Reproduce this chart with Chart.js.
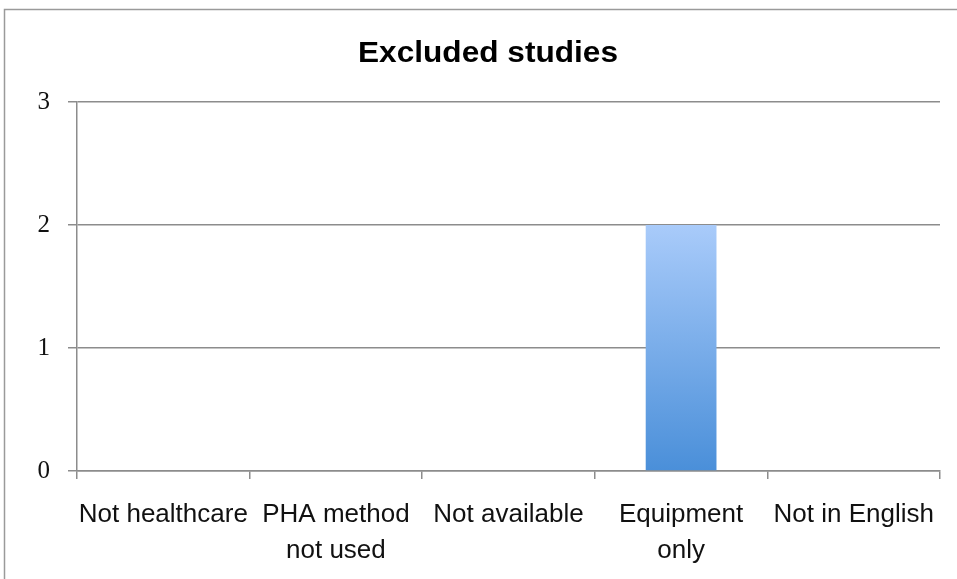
<!DOCTYPE html>
<html>
<head>
<meta charset="utf-8">
<script src="https://cdn.jsdelivr.net/npm/chart.js@4/dist/chart.umd.min.js"></script>
<style>
  html, body { margin: 0; padding: 0; background: #ffffff; }
  #wrap { width: 957px; height: 579px; position: relative; }
</style>
</head>
<body>
<div id="wrap"><canvas id="chart" width="957" height="579"></canvas></div>
<script>
// Reasons for exclusion and the number of studies in each
const categories = [
  'Not healthcare',
  ['PHA method', 'not used'],
  'Not available',
  ['Equipment', 'only'],
  'Not in English'
];
const studyCounts = [0, 0, 0, 2, 0];
const yTicks = [0, 1, 2, 3];
const chartTitle = 'Excluded studies';

// Gray frame around the whole chart (running off the right and bottom edges)
// plus the wide bold heading, centred on the frame.
const framePlugin = {
  id: 'frame',
  beforeDraw(chart) {
    const ctx = chart.ctx;
    ctx.save();
    ctx.fillStyle = '#ffffff';
    ctx.fillRect(0, 0, chart.width, chart.height);
    ctx.strokeStyle = '#9a9a9a';
    ctx.lineWidth = 1.5;
    ctx.strokeRect(4.5, 9.5, chart.width + 20, chart.height + 20);
    ctx.restore();
  },
  afterDraw(chart) {
    const ctx = chart.ctx;
    ctx.save();
    ctx.translate(488, 62);
    ctx.scale(1.09, 1);
    ctx.font = 'bold 29px "Liberation Sans", Arial, sans-serif';
    ctx.fillStyle = '#000000';
    ctx.textAlign = 'center';
    ctx.textBaseline = 'alphabetic';
    ctx.fillText(chartTitle, 0, 0);
    ctx.restore();
  }
};

function barGradient(context) {
  const chart = context.chart;
  const area = chart.chartArea;
  if (!area) return '#5b9be0';
  const yScale = chart.scales.y;
  const top = yScale.getPixelForValue(2);
  const bottom = yScale.getPixelForValue(0);
  const g = chart.ctx.createLinearGradient(0, top, 0, bottom);
  g.addColorStop(0, '#a9cbfa');
  g.addColorStop(1, '#4a8fd9');
  return g;
}

new Chart(document.getElementById('chart'), {
  type: 'bar',
  data: {
    labels: categories,
    datasets: [{
      label: chartTitle,
      data: studyCounts,
      backgroundColor: barGradient,
      borderWidth: 0,
      categoryPercentage: 1.0,
      barPercentage: 0.41
    }]
  },
  options: {
    responsive: false,
    animation: false,
    layout: { padding: { left: 0, right: 17, top: 102, bottom: 0 } },
    plugins: {
      legend: { display: false },
      tooltip: { enabled: false },
      title: { display: false }
    },
    scales: {
      x: {
        grid: {
          display: true,
          offset: true,
          drawOnChartArea: false,
          drawTicks: true,
          tickLength: 8,
          color: '#8c8c8c',
          lineWidth: 1.5
        },
        border: { display: true, color: '#8c8c8c', width: 1.5 },
        ticks: {
          color: '#111111',
          font: { family: '"Liberation Sans", Arial, sans-serif', size: 26, lineHeight: 1.38 },
          padding: 18,
          maxRotation: 0,
          autoSkip: false
        },
        afterFit(scale) { scale.height = 108; }
      },
      y: {
        min: 0,
        max: 3,
        afterBuildTicks(scale) { scale.ticks = yTicks.map(v => ({ value: v })); },
        grid: {
          color: '#8c8c8c',
          lineWidth: 1.5,
          drawTicks: true,
          tickLength: 9
        },
        border: { display: true, color: '#8c8c8c', width: 1.5 },
        ticks: {
          color: '#111111',
          font: { family: '"Liberation Serif", "Times New Roman", serif', size: 25 },
          padding: 18
        },
        afterFit(scale) { scale.width = 77; }
      }
    }
  },
  plugins: [framePlugin]
});
</script>
</body>
</html>
